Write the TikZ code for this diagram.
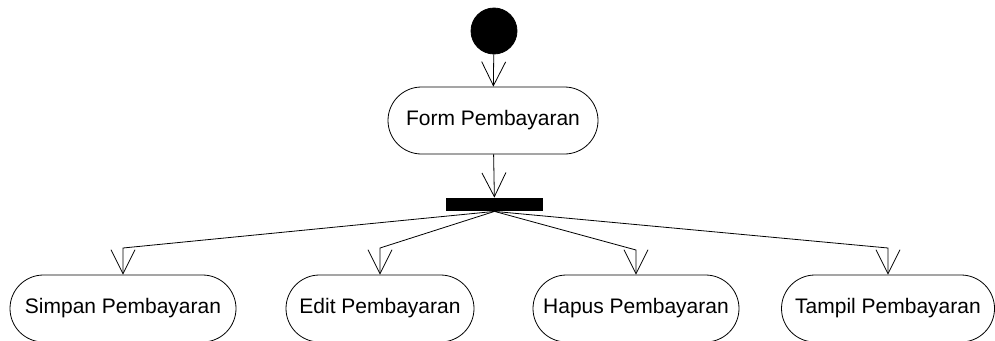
\documentclass[tikz,border=0pt]{standalone}
\usepackage{fontspec}
\setmainfont{Liberation Sans}
\usetikzlibrary{arrows.meta,shapes.misc}

\begin{document}
\begin{tikzpicture}[x=1pt, y=-1pt, line width=0.8pt,
		>={Straight Barb[length=24pt,width=24pt,line width=0.8pt]},
		activity/.style={draw, rounded rectangle, minimum height=67pt, inner sep=0pt,
			font=\fontsize{21}{25}\selectfont}]
			\useasboundingbox (0,0) rectangle (995,340);
			\clip (0,0) rectangle (995,340);
			
			\node[draw, fill=black, circle, minimum size=46pt, inner sep=0pt] (start) at (494,31) {};
			\node[activity, minimum width=210pt] (form) at (493,120.5) {Form Pembayaran};
			\node[fill=black, minimum width=97pt, minimum height=13pt, inner sep=0pt] (fork) at (494.5,204.5) {};
			
			\node[activity, minimum width=226pt] (simpan) at (123,308.5) {Simpan Pembayaran};
			\node[activity, minimum width=188pt] (edit) at (380,308.5) {Edit Pembayaran};
			\node[activity, minimum width=206pt] (hapus) at (636,308.5) {Hapus Pembayaran};
			\node[activity, minimum width=213pt] (tampil) at (888,308.5) {Tampil Pembayaran};
			
			\draw[->] (start) -- (form);
			\draw[->] (form) -- (fork);
			
			\draw[->] (fork.south) -- (simpan.north |- 0,248) -- (simpan.north);
			\draw[->] (fork.south) -- (edit.north |- 0,248) -- (edit.north);
			\draw[->] (fork.south) -- (hapus.north |- 0,250) -- (hapus.north);
			\draw[->] (fork.south) -- (tampil.north |- 0,248) -- (tampil.north);
		\end{tikzpicture}
\end{document}
